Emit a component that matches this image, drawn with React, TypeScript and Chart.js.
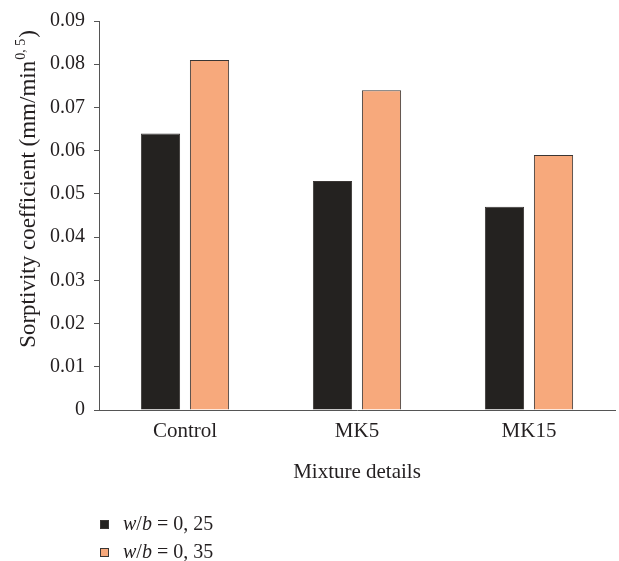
import React, { useEffect, useRef } from "react";
import { Chart, registerables } from "chart.js";

Chart.register(...registerables);

const categories = ["Control", "MK5", "MK15"];
const seriesLow = [0.064, 0.053, 0.047];
const seriesHigh = [0.081, 0.074, 0.059];
const yTickValues = [0, 0.01, 0.02, 0.03, 0.04, 0.05, 0.06, 0.07, 0.08, 0.09];
const legendLabels = [
  { a: "w", b: "b", rest: " = 0, 25" },
  { a: "w", b: "b", rest: " = 0, 35" },
];

const FONT = "'Liberation Serif', 'DejaVu Serif', serif";
const TEXT = "#231f20";

const customText = {
  id: "customText",
  afterDraw(chart: any) {
    const ctx = chart.ctx;
    ctx.save();
    // Y axis title with superscript
    ctx.fillStyle = TEXT;
    ctx.translate(29, 190);
    ctx.rotate(-Math.PI / 2);
    ctx.textBaseline = "middle";
    const main = "Sorptivity coefficient (mm/min";
    const sup = "0, 5";
    const end = ")";
    ctx.font = `23px ${FONT}`;
    const w1 = ctx.measureText(main).width;
    const w3 = ctx.measureText(end).width;
    ctx.font = `14px ${FONT}`;
    const w2 = ctx.measureText(sup).width;
    const total = w1 + w2 + w3;
    let x = -total / 2;
    ctx.textAlign = "left";
    ctx.font = `23px ${FONT}`;
    ctx.fillText(main, x, 0);
    x += w1;
    ctx.font = `14px ${FONT}`;
    ctx.fillText(sup, x + 1, -8);
    x += w2 + 2;
    ctx.font = `23px ${FONT}`;
    ctx.fillText(end, x, 0);
    ctx.restore();

    // Legend
    ctx.save();
    const ds = chart.data.datasets;
    legendLabels.forEach((lab, i) => {
      const y = 524.5 + i * 28;
      ctx.fillStyle = ds[i].backgroundColor;
      ctx.fillRect(100, y - 4.5, 9, 9);
      ctx.strokeStyle = ds[i].borderColor;
      ctx.lineWidth = 1;
      ctx.strokeRect(100.5, y - 4, 8, 8);
      ctx.fillStyle = TEXT;
      ctx.textBaseline = "middle";
      ctx.textAlign = "left";
      let tx = 123;
      ctx.font = `italic 20px ${FONT}`;
      ctx.fillText(lab.a, tx, y);
      tx += ctx.measureText(lab.a).width;
      ctx.font = `20px ${FONT}`;
      ctx.fillText("/", tx, y);
      tx += ctx.measureText("/").width;
      ctx.font = `italic 20px ${FONT}`;
      ctx.fillText(lab.b, tx, y);
      tx += ctx.measureText(lab.b).width;
      ctx.font = `20px ${FONT}`;
      ctx.fillText(lab.rest, tx, y);
    });
    ctx.restore();
  },
};

export default function App() {
  const ref = useRef<HTMLCanvasElement>(null);
  useEffect(() => {
    if (!ref.current) return;
    const chart = new Chart(ref.current, {
      type: "bar",
      data: {
        labels: categories,
        datasets: [
          {
            label: "w/b = 0, 25",
            data: seriesLow,
            backgroundColor: "#242220",
            borderColor: "#3a3634",
            borderWidth: 1,
          },
          {
            label: "w/b = 0, 35",
            data: seriesHigh,
            backgroundColor: "#f7a97c",
            borderColor: "#3a3634",
            borderWidth: 1,
          },
        ],
      },
      plugins: [customText],
      options: {
        responsive: false,
        animation: false,
        layout: { padding: { left: 0, top: 19, right: 4, bottom: 76 } },
        plugins: { legend: { display: false }, tooltip: { enabled: false } },
        datasets: { bar: { categoryPercentage: 0.57, barPercentage: 0.8 } },
        scales: {
          x: {
            grid: { display: false, drawTicks: false },
            border: { display: true, color: "#555", width: 1 },
            ticks: { color: TEXT, font: { family: FONT, size: 21 }, padding: 9 },
            title: {
              display: true,
              text: "Mixture details",
              color: TEXT,
              font: { family: FONT, size: 21 },
              padding: 0,
            },
            afterFit: (s: any) => {
              s.height = 75;
            },
          },
          y: {
            min: 0,
            max: 0.09,
            grid: { display: true, drawOnChartArea: false, drawTicks: true, tickLength: 5, color: "#555" },
            border: { display: true, color: "#555", width: 1 },
            ticks: {
              color: TEXT,
              font: { family: FONT, size: 20 },
              padding: 9,
              callback: (v: any) => (v === 0 ? "0" : Number(v).toFixed(2)),
            },
            afterBuildTicks: (s: any) => {
              s.ticks = yTickValues.map((v) => ({ value: v }));
            },
            afterFit: (s: any) => {
              s.width = 99;
            },
          },
        },
      },
    });
    return () => chart.destroy();
  }, []);
  return (
    <div style={{ position: "absolute", left: 0, top: 0, width: 619, height: 561, background: "#fff" }}>
      <canvas ref={ref} width={619} height={561} style={{ width: 619, height: 561, display: "block" }} />
    </div>
  );
}
